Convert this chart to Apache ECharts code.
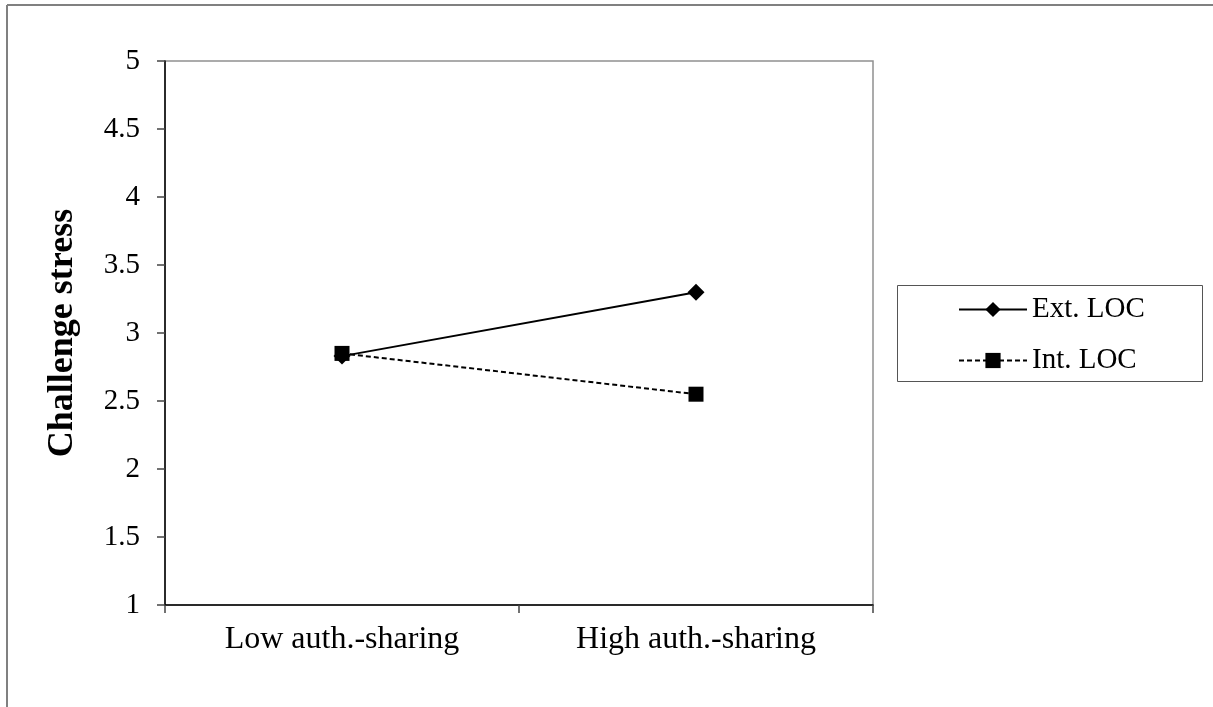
<!DOCTYPE html>
<html>
<head>
<meta charset="utf-8">
<script src="https://cdn.jsdelivr.net/npm/echarts@6/dist/echarts.min.js"></script>
<style>html,body{margin:0;padding:0;background:#fff;}#c{width:1213px;height:707px;}</style>
</head>
<body>
<div id="c"></div>
<script>
var categories = ['Low auth.-sharing', 'High auth.-sharing'];
var extLOC = [2.83, 3.30];
var intLOC = [2.85, 2.55];
var seriesNames = ['Ext. LOC', 'Int. LOC'];
var yAxisTitle = 'Challenge stress';

var chart = echarts.init(document.getElementById('c'));
var font = '"Liberation Serif", "Times New Roman", serif';
chart.setOption({
  animation: false,
  backgroundColor: '#fff',
  graphic: [
    {type: 'line', shape: {x1: 7, y1: 5, x2: 1213, y2: 5}, style: {stroke: '#808080', lineWidth: 2}},
    {type: 'line', shape: {x1: 7, y1: 5, x2: 7, y2: 707}, style: {stroke: '#808080', lineWidth: 2}},
    {type: 'rect', shape: {x: 897.5, y: 285.5, width: 305, height: 96}, style: {fill: 'none', stroke: '#555', lineWidth: 1}}
  ],
  grid: {left: 165, top: 61, right: 340, bottom: 102, show: true, borderColor: '#909090', borderWidth: 1.5},
  legend: {
    orient: 'vertical', left: 953, top: 290, itemGap: 22, itemWidth: 68, itemHeight: 19,
    textStyle: {fontFamily: font, fontSize: 29, color: '#000'},
    data: seriesNames
  },
  xAxis: {
    type: 'category', data: categories, boundaryGap: true,
    axisLine: {lineStyle: {color: '#000', width: 1.5}},
    axisTick: {show: true, length: 8, lineStyle: {color: '#444', width: 1.5}},
    axisLabel: {fontFamily: font, fontSize: 32, color: '#000', margin: 19}
  },
  yAxis: {
    type: 'value', min: 1, max: 5, interval: 0.5,
    name: yAxisTitle, nameLocation: 'middle', nameGap: 84,
    nameTextStyle: {fontFamily: font, fontSize: 36, fontWeight: 'bold', color: '#000'},
    axisLine: {show: true, lineStyle: {color: '#000', width: 1.5}},
    axisTick: {show: true, length: 8, lineStyle: {color: '#444', width: 1.5}},
    splitLine: {show: false},
    axisLabel: {fontFamily: font, fontSize: 29, color: '#000', margin: 25}
  },
  series: [
    {name: seriesNames[0], type: 'line', data: extLOC, symbol: 'diamond', symbolSize: 17,
     lineStyle: {color: '#000', width: 2, type: 'solid'}, itemStyle: {color: '#000'}},
    {name: seriesNames[1], type: 'line', data: intLOC, symbol: 'rect', symbolSize: 15,
     lineStyle: {color: '#000', width: 2, type: [5, 3]}, itemStyle: {color: '#000'}}
  ]
});
</script>
</body>
</html>
